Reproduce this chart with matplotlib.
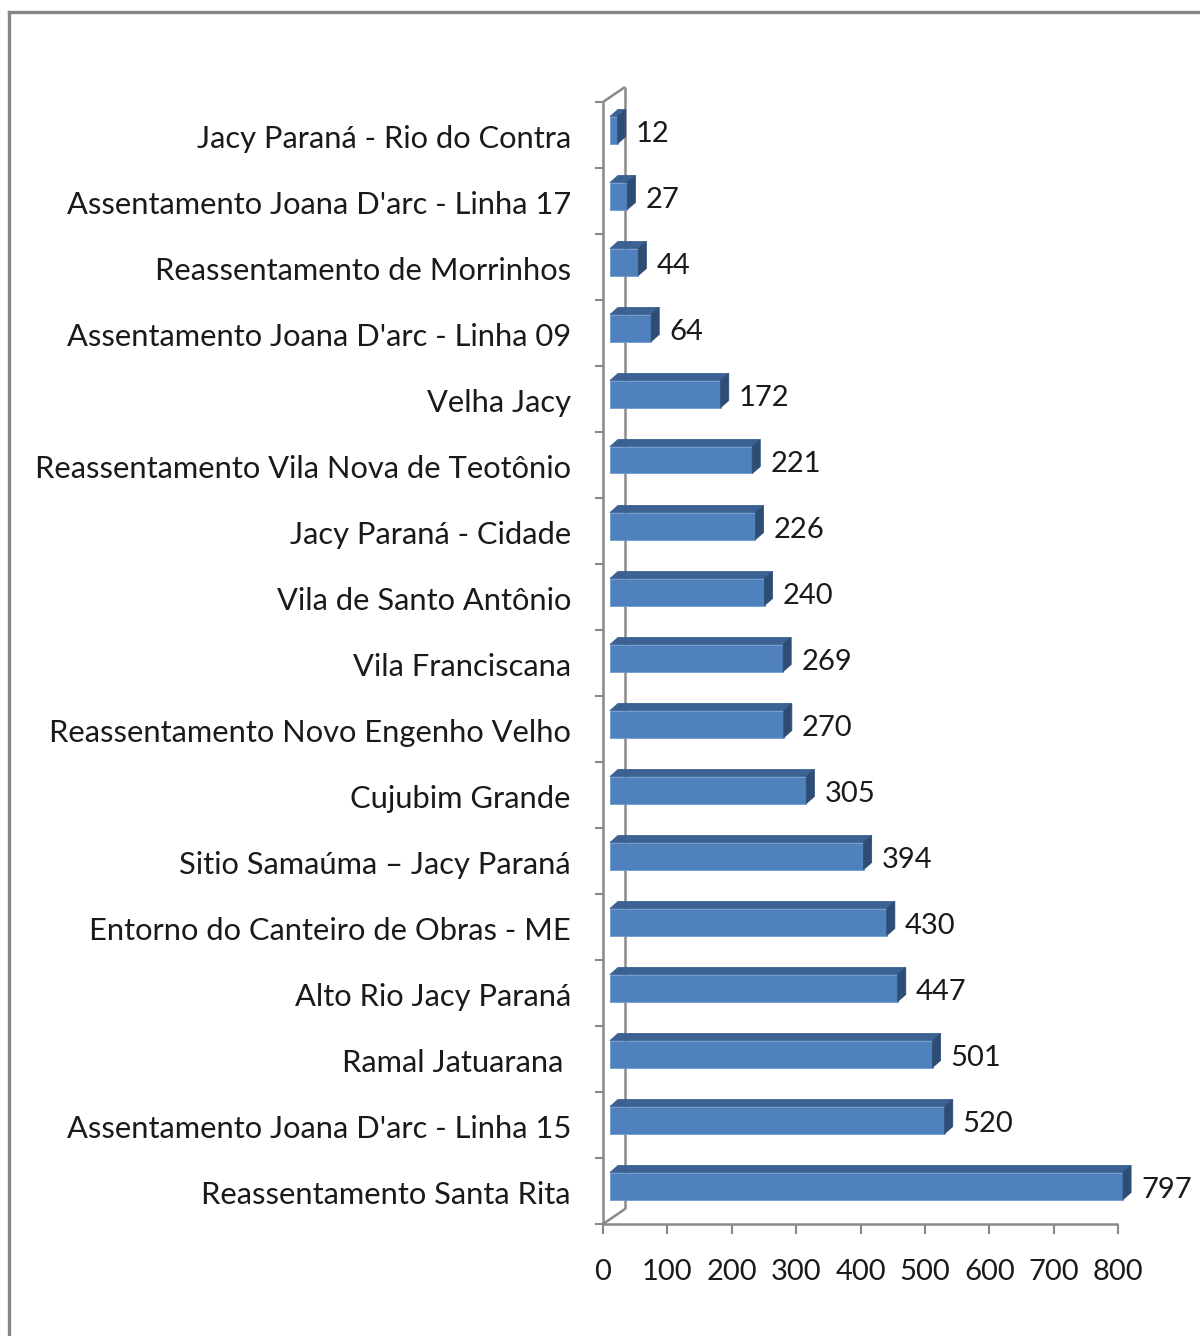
import matplotlib
import matplotlib.pyplot as plt
from matplotlib.patches import Polygon
from matplotlib.lines import Line2D

matplotlib.rc('font', family=['Lato', 'DejaVu Sans'], size=21)

locais = [
    'Jacy Paraná - Rio do Contra',
    "Assentamento Joana D'arc - Linha 17",
    'Reassentamento de Morrinhos',
    "Assentamento Joana D'arc - Linha 09",
    'Velha Jacy',
    'Reassentamento Vila Nova de Teotônio',
    'Jacy Paraná - Cidade',
    'Vila de Santo Antônio',
    'Vila Franciscana',
    'Reassentamento Novo Engenho Velho',
    'Cujubim Grande',
    'Sitio Samaúma – Jacy Paraná',
    'Entorno do Canteiro de Obras - ME',
    'Alto Rio Jacy Paraná',
    'Ramal Jatuarana ',
    "Assentamento Joana D'arc - Linha 15",
    'Reassentamento Santa Rita',
]
valores = [12, 27, 44, 64, 172, 221, 226, 240, 269, 270, 305, 394, 430,
           447, 501, 520, 797]
xticks = [0, 100, 200, 300, 400, 500, 600, 700, 800]

W, H = 1200, 1336
GRAY = '#898989'
FRONT = '#4f81bd'
TOP = '#3b6292'
SIDE = '#2e4d75'
TXT = '#1a1a1a'

fig = plt.figure(figsize=(W / 100, H / 100), dpi=100)
ax_l, ax_r, ax_t, ax_b = 603, 1118, 102, 1224
ax = fig.add_axes([ax_l / W, 1 - ax_b / H, (ax_r - ax_l) / W, (ax_b - ax_t) / H])
n = len(locais)
ax.set_xlim(0, 800)
ax.set_ylim(n - 0.5, -0.5)
for s in ax.spines.values():
    s.set_visible(False)

# data units per pixel
sx = 800 / (ax_r - ax_l)
sy = n / (ax_b - ax_t)


def off(dx, dy):
    # pixel shift (dy > 0 is up) -> data shift
    return dx * sx, -dy * sy


# walls of the 3d frame
bx, by = off(22, 15)
lines = [
    ([0, 0], [-0.5, n - 0.5]),
    ([bx, bx], [-0.5 + by, n - 0.5 + by]),
    ([0, bx], [-0.5, -0.5 + by]),
    ([0, bx], [n - 0.5, n - 0.5 + by]),
    ([0, 800], [n - 0.5, n - 0.5]),
]
for xs, ys in lines:
    ax.plot(xs, ys, color=GRAY, lw=1.8, clip_on=False, zorder=1,
            solid_capstyle='butt')

# bars with front, top and side faces
x0 = 7 * sx
dx, dy = off(8, 7)
hh = 13.5 * sy
for i, v in enumerate(valores):
    yc = i - 5 * sy
    yt, yb = yc - hh, yc + hh
    x1 = x0 + v
    faces = [
        ([(x0, yt), (x1, yt), (x1, yb), (x0, yb)], FRONT, '#6f9bd0'),
        ([(x0, yt), (x1, yt), (x1 + dx, yt + dy), (x0 + dx, yt + dy)], TOP, TOP),
        ([(x1, yt), (x1, yb), (x1 + dx, yb + dy), (x1 + dx, yt + dy)], SIDE, SIDE),
    ]
    for pts, fc, ec in faces:
        ax.add_patch(Polygon(pts, closed=True, fc=fc, ec=ec, lw=0.6,
                             zorder=3, clip_on=False))
    ax.text(x1 + dx + 10 * sx, yc + 4 * sy, str(v), ha='left', va='center',
            color=TXT, clip_on=False)
    ax.text(-32 * sx, i + 4 * sy, locais[i], ha='right', va='center',
            color=TXT, fontsize=22.2, clip_on=False)

ax.set_xticks(xticks)
ax.set_xticklabels([str(t) for t in xticks], color=TXT)
ax.tick_params(axis='x', length=7.5, width=1.5, color=GRAY, pad=18)
ax.set_yticks([k - 0.5 for k in range(n + 1)])
ax.set_yticklabels([])
ax.tick_params(axis='y', length=6, width=1.5, color=GRAY)

# outer border of the chart area
fig.add_artist(Line2D([8.5 / W, 8.5 / W], [0, 1 - 11.5 / H],
                      transform=fig.transFigure, color='#878787', lw=2.4))
fig.add_artist(Line2D([8.5 / W, 1], [1 - 11.5 / H, 1 - 11.5 / H],
                      transform=fig.transFigure, color='#878787', lw=2.4))

fig.savefig('out.png', dpi=100)
